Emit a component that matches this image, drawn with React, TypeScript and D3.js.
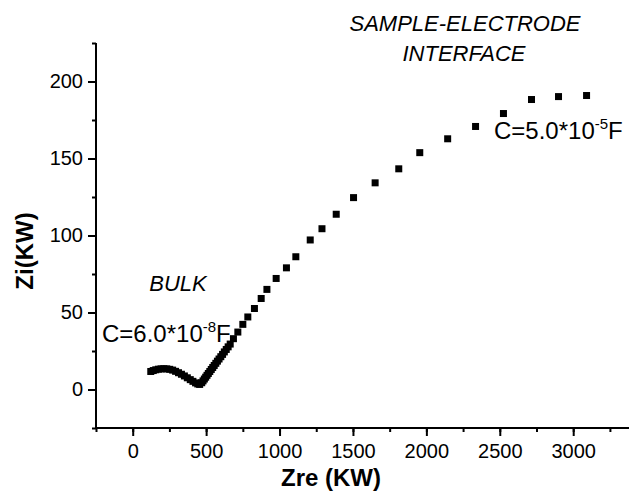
import { useEffect, useRef } from 'react';
import * as d3 from 'd3';

const width = 629;
const height = 491;

// plot frame (pixels)
const left = 96;
const bottom = 428;
const top = 43;
const right = 629;

// Nyquist data, Zre / Zi in kOhm
const zre = [
    123, 140, 157, 175, 193, 212, 232, 252, 272, 292, 312, 332, 352, 372, 392, 410, 428, 443, 456, 470, 479, 488,
    497, 506, 515, 525, 535, 545, 555, 566, 577, 588, 600, 612, 624, 637, 650, 664, 686, 716, 750, 784, 829, 875,
    914, 977, 1047, 1111, 1209, 1289, 1386, 1504, 1651, 1812, 1955, 2145, 2335, 2525, 2716, 2900, 3091
];
const zi = [
    11.7, 12.3, 12.8, 13.2, 13.4, 13.5, 13.4, 13.1, 12.6, 11.8, 10.9, 9.9, 8.8, 7.6, 6.4, 5.3, 4.3, 3.6, 3.3, 4.4,
    5.6, 6.8, 8.0, 9.2, 10.4, 11.7, 13.0, 14.3, 15.6, 17.0, 18.4, 19.8, 21.3, 22.8, 24.4, 26.0, 27.7, 29.5, 33.0,
    37.3, 42.3, 47.1, 52.6, 59.1, 65.0, 72.1, 79.0, 86.2, 97.1, 104.4, 113.8, 124.6, 134.2, 143.3, 153.8, 162.8,
    170.8, 179.2, 188.3, 190.2, 190.9
];

const xTicks = [0, 500, 1000, 1500, 2000, 2500, 3000];
const yTicks = [0, 50, 100, 150, 200];

const font = "'Liberation Sans', Arial, sans-serif";

function App() {
    const ref = useRef<SVGSVGElement | null>(null);

    useEffect(() => {
        const svg = d3.select(ref.current);
        svg.selectAll('*').remove();

        const x = d3.scaleLinear().domain([-250, 3380]).range([left, right]);
        const y = d3.scaleLinear().domain([-25, 225]).range([bottom, top]);

        // minor ticks
        const xMinor = d3.range(-250, 3380, 250);
        const yMinor = d3.range(-25, 226, 25);

        const xAxis = svg.append('g').attr('transform', `translate(0, ${bottom})`);
        xAxis
            .call(d3.axisBottom(x).tickValues(xMinor).tickSize(4).tickFormat(() => ''))
            .call((g) => g.selectAll('line').attr('stroke-width', 2));
        xAxis
            .append('g')
            .call(d3.axisBottom(x).tickValues(xTicks).tickSize(8).tickPadding(8).tickFormat(d3.format('d')))
            .call((g) => g.select('.domain').remove())
            .call((g) => g.selectAll('line').attr('stroke-width', 2))
            .call((g) => g.selectAll('text').attr('font-size', 20).attr('font-family', font).attr('fill', '#000'));
        xAxis.select('.domain').attr('stroke-width', 2).attr('d', `M${left},0H${right}`);

        const yAxis = svg.append('g').attr('transform', `translate(${left}, 0)`);
        yAxis
            .call(d3.axisLeft(y).tickValues(yMinor).tickSize(4).tickFormat(() => ''))
            .call((g) => g.selectAll('line').attr('stroke-width', 2));
        yAxis
            .append('g')
            .call(d3.axisLeft(y).tickValues(yTicks).tickSize(8).tickPadding(5))
            .call((g) => g.select('.domain').remove())
            .call((g) => g.selectAll('line').attr('stroke-width', 2))
            .call((g) => g.selectAll('text').attr('font-size', 20).attr('font-family', font).attr('fill', '#000'));
        yAxis.select('.domain').attr('stroke-width', 2).attr('d', `M0,${bottom}V${top}`);

        // markers
        const s = 7;
        svg.append('g')
            .selectAll('rect')
            .data(zre.map((d, i) => [d, zi[i]]))
            .enter()
            .append('rect')
            .attr('x', (d) => x(d[0]) - s / 2)
            .attr('y', (d) => y(d[1]) - s / 2)
            .attr('width', s)
            .attr('height', s)
            .attr('fill', '#000');

        // axis titles
        svg.append('text')
            .attr('x', 331)
            .attr('y', 486)
            .attr('text-anchor', 'middle')
            .attr('font-family', font)
            .attr('font-weight', 'bold')
            .attr('font-size', 24)
            .text('Zre (KW)');
        svg.append('text')
            .attr('transform', 'translate(33, 251) rotate(-90)')
            .attr('text-anchor', 'middle')
            .attr('font-family', font)
            .attr('font-weight', 'bold')
            .attr('font-size', 24)
            .text('Zi(KW)');

        // annotations
        const italic = (tx: number, ty: number, t: string) =>
            svg.append('text')
                .attr('x', tx)
                .attr('y', ty)
                .attr('text-anchor', 'middle')
                .attr('font-family', font)
                .attr('font-style', 'italic')
                .attr('font-size', 22)
                .text(t);
        italic(465, 31, 'SAMPLE-ELECTRODE');
        italic(464, 61, 'INTERFACE');
        italic(178, 291, 'BULK');

        const cap = (tx: number, ty: number, mant: string, exp: string) => {
            const t = svg.append('text').attr('x', tx).attr('y', ty).attr('font-family', font).attr('font-size', 24);
            t.append('tspan').text(mant);
            t.append('tspan').attr('font-size', 15).attr('dy', -10).text(exp);
            t.append('tspan').attr('dy', 10).text('F');
        };
        cap(102, 342, 'C=6.0*10', '-8');
        cap(494, 139, 'C=5.0*10', '-5');
    }, []);

    return (
        <svg
            ref={ref}
            width={width}
            height={height}
            style={{ position: 'absolute', left: 0, top: 0, background: '#fff' }}
        />
    );
}

export default App;
